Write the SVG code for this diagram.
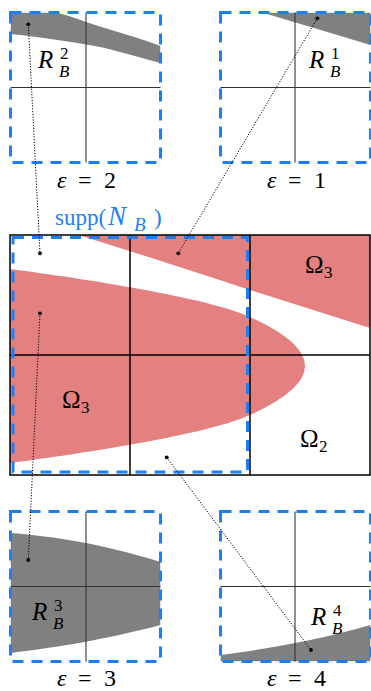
<svg xmlns="http://www.w3.org/2000/svg" width="371" height="691" viewBox="0 0 371 691">
<style>
.red{fill:#e48080;stroke:none}
.gray{fill:#808080;stroke:none}
.grid{fill:none;stroke:#000;stroke-width:1.5}
.cross{fill:none;stroke:#333;stroke-width:1.1}
.blue{fill:none;stroke:#1b80f7;stroke-width:3;stroke-dasharray:11 8}
.dot{fill:#000}
.conn{fill:none;stroke:#000;stroke-width:1;stroke-dasharray:1.2 1.6}
text{font-family:"Liberation Serif","DejaVu Serif",serif;fill:#000}
.m{font-size:24px}
.om{font-size:25px}
.mi{font-size:25px;font-style:italic}
.e{font-size:24px;font-style:italic}
.s{font-size:17px}
.si{font-size:17px;font-style:italic}
.sp{font-size:23px}
.spi{font-size:27px;font-style:italic}
.spb{font-size:19px;font-style:italic}
.bl{fill:#1b80f7}
</style>
<defs>
<clipPath id="cmain"><rect x="10" y="235" width="360" height="240"/></clipPath>
<clipPath id="c2"><rect x="10.5" y="12.5" width="150" height="150"/></clipPath>
<clipPath id="c1"><rect x="220.5" y="12.5" width="150" height="150"/></clipPath>
<clipPath id="c3"><rect x="10.5" y="511.5" width="150" height="150"/></clipPath>
<clipPath id="c4"><rect x="220.5" y="511.5" width="150" height="150"/></clipPath>
</defs>

<g id="main-grid">
<g clip-path="url(#cmain)">
<path class="red" d="M78,235 Q150,257 250,290 L370,328 L370,235 Z"/>
<path class="red" d="M10,269 C80,278.3 206,297 250,317 Q305,342 305,366 Q305,390 250,415 C206,435 80,453.7 10,463 Z"/>
</g>
<rect class="grid" x="10" y="235" width="360" height="240"/>
<line class="grid" x1="130" y1="235" x2="130" y2="475"/>
<line class="grid" x1="250" y1="235" x2="250" y2="475"/>
<line class="grid" x1="10" y1="355" x2="370" y2="355"/>
<text class="om" x="305" y="273">Ω</text><text class="s" x="324" y="278">3</text>
<text class="om" x="62" y="408">Ω</text><text class="s" x="81" y="413">3</text>
<text class="om" x="300" y="447">Ω</text><text class="s" x="319" y="452">2</text>
</g>

<g id="supp-NB">
<rect class="blue" x="13" y="237.5" width="234.5" height="234.5"/>
<text class="sp bl" x="55" y="225">supp(</text>
<text class="spi bl" x="108" y="225">N</text>
<text class="spb bl" x="134" y="231">B</text>
<text class="sp bl" x="154" y="225">)</text>
</g>

<g id="box-eps2">
<path class="gray" clip-path="url(#c2)" d="M10.5,12.5 L52,12.5 C65,14 75,18 86,22 C110,30 140,38 160.5,46 L160.5,63 C130,55 105,47 86,44.5 C60,40 30,36 10.5,34 Z"/>
<line class="cross" x1="86" y1="12.5" x2="86" y2="162.5"/>
<line class="cross" x1="10.5" y1="87.5" x2="160.5" y2="87.5"/>
<rect class="blue" x="10.5" y="12.5" width="150" height="150"/>
<text class="mi" x="38" y="68">R</text><text class="s" x="60" y="59">2</text><text class="si" x="59" y="77">B</text>
<text class="e" x="57" y="188">ε</text><text class="m" x="78" y="188">=</text><text class="m" x="104" y="188">2</text>
</g>

<g id="box-eps1">
<path class="gray" clip-path="url(#c1)" d="M262,12.5 Q316,28.5 370.5,45 L370.5,12.5 Z"/>
<line class="cross" x1="295" y1="12.5" x2="295" y2="162.5"/>
<line class="cross" x1="220.5" y1="87.5" x2="370.5" y2="87.5"/>
<rect class="blue" x="220.5" y="12.5" width="150" height="150"/>
<text class="mi" x="309" y="68">R</text><text class="s" x="331" y="59">1</text><text class="si" x="330" y="77">B</text>
<text class="e" x="267" y="188">ε</text><text class="m" x="288" y="188">=</text><text class="m" x="314" y="188">1</text>
</g>

<g id="box-eps3">
<path class="gray" clip-path="url(#c3)" d="M10.5,533 C50,536 100,543 160.5,562 L160.5,625 C100,641 50,648 10.5,653 Z"/>
<line class="cross" x1="86" y1="511.5" x2="86" y2="661.5"/>
<line class="cross" x1="10.5" y1="586.5" x2="160.5" y2="586.5"/>
<rect class="blue" x="10.5" y="511.5" width="150" height="150"/>
<text class="mi" x="32" y="620">R</text><text class="s" x="54" y="611">3</text><text class="si" x="53" y="629">B</text>
<text class="e" x="57" y="686">ε</text><text class="m" x="78" y="686">=</text><text class="m" x="104" y="686">3</text>
</g>

<g id="box-eps4">
<path class="gray" clip-path="url(#c4)" d="M220.5,655 C260,650 320,640 370.5,625 L370.5,661.5 L220.5,661.5 Z"/>
<line class="cross" x1="295" y1="511.5" x2="295" y2="661.5"/>
<line class="cross" x1="220.5" y1="586.5" x2="370.5" y2="586.5"/>
<rect class="blue" x="220.5" y="511.5" width="150" height="150"/>
<text class="mi" x="311" y="625">R</text><text class="s" x="333" y="616">4</text><text class="si" x="332" y="634">B</text>
<text class="e" x="267" y="686">ε</text><text class="m" x="288" y="686">=</text><text class="m" x="314" y="686">4</text>
</g>

<g id="connectors">
<line class="conn" x1="28.3" y1="24.3" x2="40" y2="253.3"/>
<line class="conn" x1="317.3" y1="18.3" x2="178.3" y2="253.3"/>
<line class="conn" x1="40" y1="313.3" x2="28.3" y2="560"/>
<line class="conn" x1="166.7" y1="457.3" x2="311" y2="650"/>
<circle class="dot" cx="28.3" cy="24.3" r="1.9"/>
<circle class="dot" cx="40" cy="253.3" r="1.9"/>
<circle class="dot" cx="317.3" cy="18.3" r="1.9"/>
<circle class="dot" cx="178.3" cy="253.3" r="1.9"/>
<circle class="dot" cx="40" cy="313.3" r="1.9"/>
<circle class="dot" cx="28.3" cy="560" r="1.9"/>
<circle class="dot" cx="166.7" cy="457.3" r="1.9"/>
<circle class="dot" cx="311" cy="650" r="1.9"/>
</g>
</svg>
